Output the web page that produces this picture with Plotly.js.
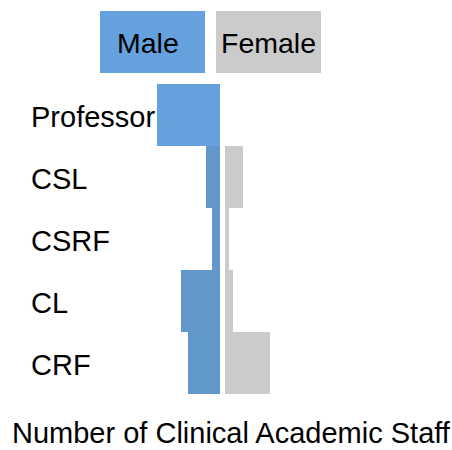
<!DOCTYPE html>
<html>
<head>
<meta charset="utf-8">
<script src="https://cdn.plot.ly/plotly-3.0.1.min.js"></script>
<style>html,body{margin:0;padding:0;background:#fff;}#chart{width:452px;height:450px;}</style>
</head>
<body>
<div id="chart"></div>
<script>
var categories = ["Professor", "CSL", "CSRF", "CL", "CRF"];
var maleValues = [31.5, 7, 4, 19.5, 16];
var femaleValues = [0, 9, 2, 4, 22.5];
var seriesNames = ["Male", "Female"];
var axisTitle = "Number of Clinical Academic Staff";

var W = 452, H = 450;
var FONT = "Arial, 'Liberation Sans', sans-serif";
var maleColors = categories.map(function (c, i) { return i === 0 ? "#64a1dd" : "#6197ca"; });

var traces = [
  {
    type: "bar", orientation: "h", name: seriesNames[0],
    y: categories, x: maleValues, xaxis: "x", yaxis: "y",
    marker: {color: maleColors, line: {width: 0}},
    hoverinfo: "x+y"
  },
  {
    type: "bar", orientation: "h", name: seriesNames[1],
    y: categories, x: femaleValues, xaxis: "x2", yaxis: "y",
    marker: {color: "#cbcbcb", line: {width: 0}},
    hoverinfo: "x+y"
  }
];

var annotations = categories.map(function (c) {
  return {
    xref: "paper", yref: "y", x: 29 / W, y: c, xanchor: "left", yanchor: "middle",
    text: c, showarrow: false, font: {family: FONT, size: 29, color: "#000"}, yshift: -2
  };
});
annotations.push({
  xref: "paper", yref: "paper", x: 231.5 / W, y: 0, xanchor: "center", yanchor: "bottom",
  text: axisTitle, showarrow: false, borderpad: 0, font: {family: FONT, size: 29, color: "#000"}, yshift: 0
});
annotations.push({
  xref: "paper", yref: "paper", x: 148 / W, y: 1 - 43 / H, xanchor: "center", yanchor: "middle",
  text: seriesNames[0], showarrow: false, font: {family: FONT, size: 28.5, color: "#000"}
});
annotations.push({
  xref: "paper", yref: "paper", x: 268 / W, y: 1 - 43 / H, xanchor: "center", yanchor: "middle",
  text: seriesNames[1], showarrow: false, font: {family: FONT, size: 28.5, color: "#000"}
});

var layout = {
  width: W, height: H,
  margin: {l: 0, r: 0, t: 0, b: 0, pad: 0},
  paper_bgcolor: "#fff", plot_bgcolor: "#fff",
  showlegend: false,
  bargap: 0,
  font: {family: FONT, size: 29, color: "#000"},
  xaxis: {domain: [0, 220 / W], range: [110, 0], visible: false, fixedrange: true},
  xaxis2: {domain: [225 / W, 1], range: [0, 113.5], anchor: "y", visible: false, fixedrange: true},
  yaxis: {domain: [1 - 394 / H, 1 - 84 / H], type: "category", categoryorder: "array",
          categoryarray: categories, range: [4.5, -0.5], visible: false, fixedrange: true},
  shapes: [
    {type: "rect", xref: "paper", yref: "paper", x0: 100 / W, x1: 205 / W, y0: 1 - 73 / H, y1: 1 - 11 / H,
     fillcolor: "#64a1dd", line: {width: 0}, layer: "below"},
    {type: "rect", xref: "paper", yref: "paper", x0: 216 / W, x1: 321 / W, y0: 1 - 73 / H, y1: 1 - 11 / H,
     fillcolor: "#cbcbcb", line: {width: 0}, layer: "below"}
  ],
  annotations: annotations
};

Plotly.newPlot("chart", traces, layout, {displayModeBar: false, staticPlot: true});
</script>
</body>
</html>
